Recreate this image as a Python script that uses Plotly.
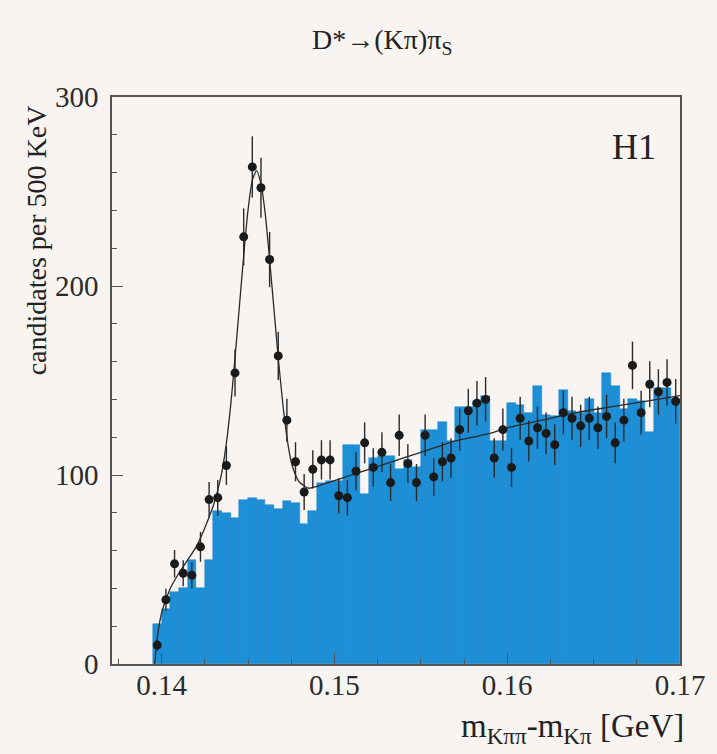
import numpy as np
import plotly.graph_objects as go

# Bin centres of the mass-difference spectrum (500 keV bins)
bin_width = 0.0005
bin_centers = [round(0.13975 + i * bin_width, 5) for i in range(61)]

# Right-charge candidates (points)
data_counts = [10, 34, 53, 48, 47, 62, 87, 88, 105, 154,
               226, 263, 252, 214, 163, 129, 107, 91, 103, 108,
               108, 89, 88, 102, 117, 104, 112, 96, 121, 106,
               96, 121, 99, 107, 109, 124, 134, 138, 140, 109,
               124, 104, 130, 118, 125, 122, 116, 133, 130, 126,
               130, 125, 131, 117, 129, 158, 133, 148, 144, 149,
               139]

# Wrong-charge combinations (filled histogram)
bkg_counts = [21, 29, 38, 40, 55, 40, 55, 81, 80, 77,
              87, 88, 87, 84, 82, 86, 85, 74, 81, 96,
              97, 97, 116, 116, 90, 109, 110, 110, 103, 108,
              104, 124, 124, 128, 118, 136, 136, 139, 142, 118,
              118, 138, 137, 133, 147, 132, 131, 145, 134, 133,
              140, 133, 154, 147, 135, 140, 139, 123, 146, 146,
              140]

# Fitted curve (signal + background)
fit_x = [0.13960, 0.13975, 0.14000, 0.14050, 0.14100, 0.14150, 0.14200,
         0.14250, 0.14300, 0.14325, 0.14350, 0.14375, 0.14400, 0.14425,
         0.14450, 0.14475, 0.14500, 0.14525, 0.14550, 0.14575, 0.14600,
         0.14625, 0.14650, 0.14675, 0.14700, 0.14725, 0.14750, 0.14775,
         0.14800, 0.14850, 0.14900, 0.15000, 0.15100, 0.15200, 0.15300,
         0.15400, 0.15500, 0.15600, 0.15700, 0.15800, 0.15900, 0.16000,
         0.16200, 0.16400, 0.16600, 0.16800, 0.17000]
fit_y = [0, 14, 27, 40, 48, 55, 62,
         72, 84, 92, 102, 117, 137, 162,
         189, 216, 240, 256, 261, 254, 238,
         214, 188, 162, 139, 120, 107, 100,
         96, 93, 94, 97, 100, 103, 106,
         109, 112, 115, 118, 120, 122, 125,
         129, 133, 136, 139, 142]

x_ticks = [0.14, 0.15, 0.16, 0.17]
x_tick_text = ["0.14", "0.15", "0.16", "0.17"]
y_ticks = [0, 100, 200, 300]

serif = "Liberation Serif, Times New Roman, serif"
bg_col = "#f8f4f1"
fill_col = "#1c8fd7"

fig = go.Figure()

fig.add_trace(go.Bar(
    x=bin_centers, y=bkg_counts, width=bin_width,
    marker=dict(color=fill_col, line=dict(color="#1880c6", width=0.5)),
    showlegend=False, hoverinfo="skip",
))

fig.add_trace(go.Scatter(
    x=fit_x, y=fit_y, mode="lines",
    line=dict(color="#2a2a2a", width=1.3, shape="spline", smoothing=0.6),
    showlegend=False, hoverinfo="skip",
))

errors = [float(np.sqrt(v)) for v in data_counts]
fig.add_trace(go.Scatter(
    x=bin_centers, y=data_counts, mode="markers",
    marker=dict(color="#1a1a1a", size=9),
    error_y=dict(type="data", array=errors, visible=True,
                 color="#2a2a2a", thickness=1.4, width=0),
    showlegend=False,
))

axis_common = dict(
    showline=True, linecolor="#555555", linewidth=1.6, mirror=True,
    ticks="inside", ticklen=11, tickwidth=1.2, tickcolor="#555555",
    showgrid=False, zeroline=False,
    tickfont=dict(family=serif, size=29, color="#2b2b2b"),
)

fig.update_layout(
    width=717, height=754,
    margin=dict(l=112, r=27, t=97, b=90),
    paper_bgcolor=bg_col, plot_bgcolor=bg_col,
    bargap=0,
    xaxis=dict(range=[0.13713, 0.17], tickvals=x_ticks, ticktext=x_tick_text,
               ticklabelstandoff=-6,
               minor=dict(dtick=0.0025, tick0=0.14, ticks="inside", ticklen=5,
                          tickcolor="#555555"),
               **axis_common),
    yaxis=dict(range=[0, 300], tickvals=y_ticks, ticklabelstandoff=6,
               minor=dict(dtick=20, tick0=0, ticks="inside", ticklen=5,
                          tickcolor="#555555"),
               **axis_common),
    annotations=[
        dict(text="D*\u2192(K\u03c0)\u03c0<sub>S</sub>", xref="paper", yref="paper",
             x=(387 - 112) / 578, y=(664 - 42) / 567, xanchor="center", yanchor="middle",
             showarrow=False, font=dict(family=serif, size=28, color="#222222")),
        dict(text="H1", xref="paper", yref="paper",
             x=(643 - 112) / 578, y=(664 - 147) / 567, xanchor="center", yanchor="middle",
             showarrow=False, font=dict(family=serif, size=36, color="#222222")),
        dict(text="candidates per 500 KeV", xref="paper", yref="paper",
             x=(35 - 112) / 578, y=(664 - 240) / 567, xanchor="center", yanchor="middle",
             textangle=-90, showarrow=False,
             font=dict(family=serif, size=28, color="#222222")),
        dict(text="m<sub>K\u03c0\u03c0</sub>-m<sub>K\u03c0</sub> [GeV]", xref="paper", yref="paper",
             x=1.0, y=(664 - 728) / 567, xanchor="right", yanchor="middle", xshift=6,
             showarrow=False, font=dict(family=serif, size=33, color="#222222")),
    ],
)

fig.write_html("out.html")
